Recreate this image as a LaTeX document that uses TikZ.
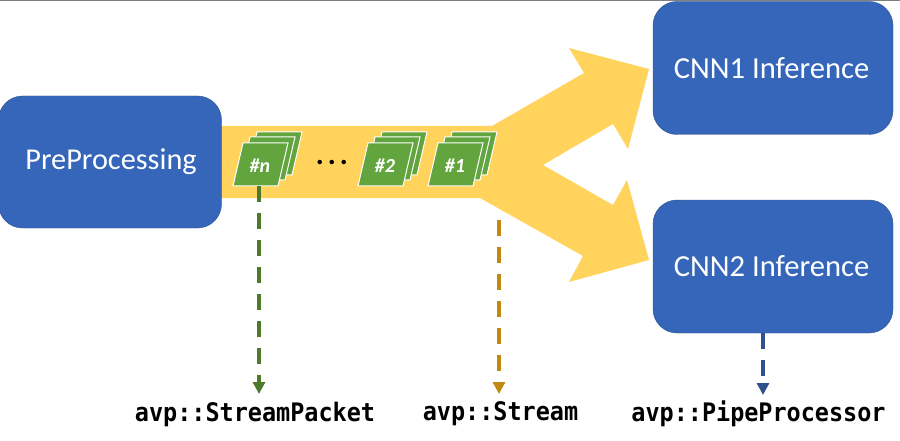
\documentclass[tikz,border=0pt]{standalone}
\usepackage{fontspec}
\setmainfont{Carlito}
\setmonofont{DejaVu Sans Mono}
\usetikzlibrary{arrows.meta}
\definecolor{boxblue}{HTML}{3566BA}
\definecolor{boxedge}{HTML}{2F528F}
\definecolor{pipeyellow}{HTML}{FFD35C}
\definecolor{pktgreen}{HTML}{62A53E}
\definecolor{darkgreen}{HTML}{4C7A2A}
\definecolor{darkgold}{HTML}{C08A12}
\newcommand{\apitext}[1]{\scalebox{0.92}[1]{\fontsize{25.5}{30}\selectfont\ttfamily\bfseries #1}}
\tikzset{
  procbox/.style={draw=boxedge, fill=boxblue, rounded corners=24pt, text=white,
    font=\fontsize{30.6}{36}\selectfont, minimum width=240pt, minimum height=133pt, inner sep=0pt},
  sheet/.style={draw=white, line width=1pt, fill=pktgreen},
  pktlabel/.style={text=white, font=\fontsize{20}{24}\selectfont\bfseries\itshape, inner sep=0pt},
  apilabel/.style={inner sep=0pt},
  apiarrow/.style={dash pattern=on 16pt off 11pt, line width=4.5pt,
    -{Triangle[width=12pt,length=12pt]}}
}
\begin{document}
\begin{tikzpicture}[x=1pt,y=-1pt]
  \useasboundingbox (0,0) rectangle (900,441);
  % Draw the top rule
  \draw[gray, line width=1.5pt] (0,0.5) -- (900,0.5);

  % Draw the yellow stream with its two branches
  \fill[pipeyellow] (215,126) -- (492,126) -- (584,73) -- (569,48) -- (649,69)
    -- (628,149) -- (613,124) -- (543,165) -- (613,205) -- (627,180) -- (649,260)
    -- (569,282) -- (583,256) -- (480,198) -- (215,198) -- cycle;

  % Draw the processing blocks
  \node[procbox, minimum width=223pt, minimum height=132pt, font=\fontsize{30.3}{36}\selectfont] (pre) at (110,162) {\raisebox{-3pt}{\hspace{2pt}PreProcessing}};
  \node[procbox] (cnn1) at (773,68) {\hspace{-3pt}CNN1 Inference};
  \node[procbox] (cnn2) at (773,266.5) {\raisebox{1pt}{\hspace{-3pt}CNN2 Inference}};

  % Draw the three packet stacks
  \foreach \name/\x/\txt in {pktn/0/n, pkt2/125/2, pkt1/195/1} {
    \foreach \dx/\dy in {14/-11, 7/-6, 0/0} {
      \draw[sheet] (243+\x+\dx,143+\dy) -- (288+\x+\dx,143+\dy)
        -- (278+\x+\dx,186+\dy) -- (233+\x+\dx,186+\dy) -- cycle;
    }
    \node[pktlabel] (\name) at (260+\x,166) {\#\txt};
  }
  \node[font=\fontsize{30}{34}\selectfont\bfseries, inner sep=0pt] (dots) at (332,162) {.\hspace{4pt}.\hspace{4pt}.};

  % Draw the class names
  \node[apilabel] (lblpacket) at (255,414) {\apitext{avp::StreamPacket}};
  \node[apilabel] (lblstream) at (500.5,414) {\apitext{avp::Stream}};
  \node[apilabel] (lblproc) at (758.5,414) {\apitext{avp::PipeProcessor}};

  % Draw the dashed arrows
  \coordinate (pktfoot) at (259,186);
  \coordinate (streamfoot) at (499,220);
  \coordinate (cnnfoot) at (763,333);
  \draw[apiarrow, darkgreen] (pktfoot) -- (pktfoot |- 0,394);
  \draw[apiarrow, darkgold] (streamfoot) -- (streamfoot |- 0,394);
  \draw[apiarrow, boxedge] (cnnfoot) -- (cnnfoot |- 0,395);
\end{tikzpicture}
\end{document}
